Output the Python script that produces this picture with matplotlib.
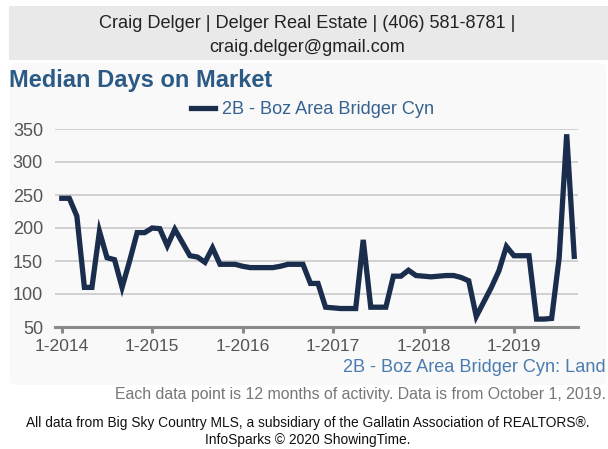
import numpy as np
import matplotlib
matplotlib.use("Agg")
import matplotlib.pyplot as plt
from matplotlib.patches import FancyBboxPatch, Rectangle

plt.rcParams["font.family"] = ["Liberation Sans", "DejaVu Sans"]

# monthly values, Jan 2014 .. Sep 2019
days_on_market = [
    245, 245, 218, 110, 110, 195, 155, 152, 110, 150, 193, 193,
    200, 199, 173, 198, 178, 158, 156, 148, 170, 145, 145, 145,
    142, 140, 140, 140, 140, 142, 145, 145, 145, 116, 116, 80,
    79, 78, 78, 78, 182, 80, 80, 80, 127, 127, 136, 128,
    127, 126, 127, 128, 128, 125, 120, 66, 88, 110, 135, 172,
    158, 158, 158, 62, 62, 63, 155, 342, 157,
]
tick_labels = ["1-2014", "1-2015", "1-2016", "1-2017", "1-2018", "1-2019"]
y_ticks = [50, 100, 150, 200, 250, 300, 350]
series_name = "2B - Boz Area Bridger Cyn"

W, H = 608, 449


def fx(px):
    return px / W


def fy(py):
    return 1 - py / H


def main():
    fig = plt.figure(figsize=(W / 100, H / 100), dpi=100)
    fig.patch.set_facecolor("white")

    # header box
    fig.patches.append(Rectangle((fx(9), fy(60)), fx(608) - fx(9), fy(6) - fy(60),
                                 transform=fig.transFigure, facecolor="#e9e9e9",
                                 edgecolor="none", zorder=-2))
    fig.text(fx(307), fy(24), "Craig Delger | Delger Real Estate | (406) 581-8781 |",
             ha="center", va="center", fontsize=13.1, color="#222222")
    fig.text(fx(307), fy(48), "craig.delger@gmail.com",
             ha="center", va="center", fontsize=13.1, color="#222222")

    # chart card
    fig.patches.append(FancyBboxPatch((fx(10), fy(385)), fx(606) - fx(10), fy(63) - fy(385),
                                      boxstyle="round,pad=0,rounding_size=0.012",
                                      transform=fig.transFigure, facecolor="#f9f9f9",
                                      edgecolor="none", zorder=-2))

    fig.text(fx(9), fy(81), "Median Days on Market", ha="left", va="center",
             fontsize=17, fontweight="bold", color="#2b5a85")

    ax = fig.add_axes([fx(55), fy(327), fx(578) - fx(55), fy(129) - fy(327)])
    ax.set_zorder(2)
    ax.set_facecolor("none")
    months = np.arange(len(days_on_market))
    ax.plot(months, days_on_market, color="#1b2d4d", linewidth=3.8,
            solid_joinstyle="miter", label=series_name, zorder=3)

    ax.set_xlim(-0.9, 68.5)
    ax.set_ylim(50, 350)
    ax.set_yticks(y_ticks)
    ax.set_xticks(np.arange(len(tick_labels)) * 12)
    ax.set_xticklabels(tick_labels)

    for v in y_ticks[1:]:
        ax.axhline(v, color="#c9c9c9", linewidth=1.2, zorder=1)

    for s in ["top", "right", "left"]:
        ax.spines[s].set_visible(False)
    ax.spines["bottom"].set_color("#8a8a8a")
    ax.spines["bottom"].set_linewidth(2.2)
    ax.tick_params(axis="y", length=0, pad=8.6, labelsize=13, labelcolor="#555555")
    ax.tick_params(axis="x", length=4.5, width=2.2, color="#8a8a8a", pad=4,
                   labelsize=12.6, labelcolor="#555555")

    fig.legend(loc="center", bbox_to_anchor=(fx(313), fy(110)), frameon=False,
               fontsize=13.1, handlelength=1.3, handletextpad=0.4,
               labelcolor="#35628f")

    fig.text(fx(606), fy(367), series_name + ": Land", ha="right", va="center",
             fontsize=13.1, color="#4a7cb0")
    fig.text(fx(606), fy(395),
             "Each data point is 12 months of activity. Data is from October 1, 2019.",
             ha="right", va="center", fontsize=11.4, color="#777777")
    fig.text(fx(308), fy(423),
             "All data from Big Sky Country MLS, a subsidiary of the Gallatin Association of REALTORS\u00ae.",
             ha="center", va="center", fontsize=9.9, color="#111111")
    fig.text(fx(308), fy(440), "InfoSparks \u00a9 2020 ShowingTime.",
             ha="center", va="center", fontsize=9.9, color="#111111")

    fig.savefig("out.png", dpi=100, facecolor="white")
    plt.close(fig)


if __name__ == "__main__":
    main()
